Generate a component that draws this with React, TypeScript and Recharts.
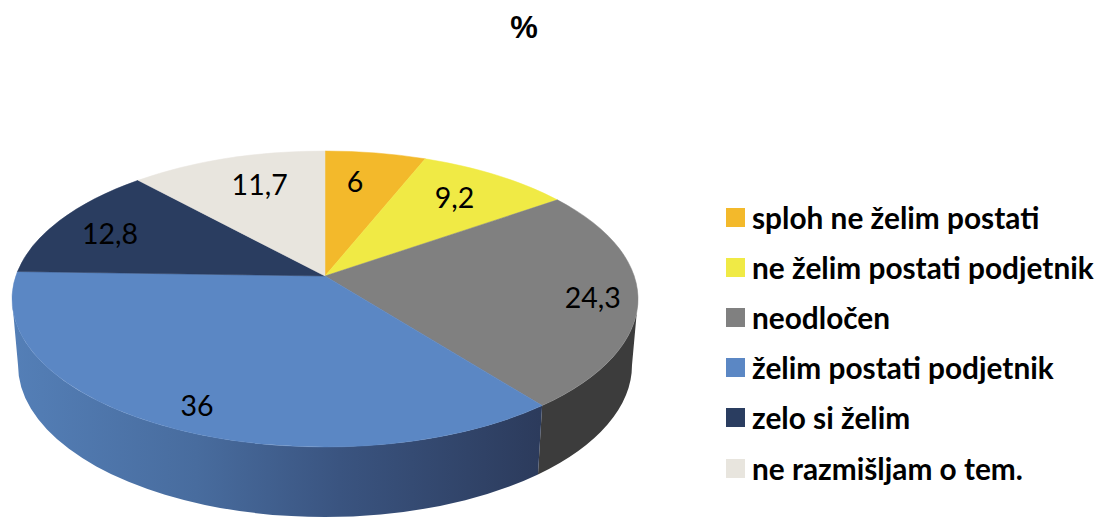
import React from 'react';
import { PieChart, Pie, Cell, Legend } from 'recharts';

const CATEGORIES = [
    'sploh ne želim postati',
    'ne želim postati podjetnik',
    'neodločen',
    'želim postati podjetnik',
    'zelo si želim',
    'ne razmišljam o tem.',
];
const VALUES = [6, 9.2, 24.3, 36, 12.8, 11.7];
const COLORS = ['#F3B92B', '#F0EA45', '#808080', '#5B87C4', '#2A3D60', '#E8E5DE'];

// nudges for the value labels, Excel does not put them on the mid line
const LABEL_SHIFT = [[-8, -3], [1, -3], [33, 5], [-5, 17], [-17, -1], [8, -4]];

const data = CATEGORIES.map((name, i) => ({ name, value: VALUES[i] }));

// fake 3D: the pie is tilted, so the rim is an ellipse that sits below the apex
const TILT = 2.16;
const RY_RATIO = 148 / 313;
const RIM_DROP = 23;
const WALL_DROP = 66;
const WALL_RX_RATIO = 307 / 313;
const WALL_RY_RATIO = 152 / 313;

const toRad = (deg: number) => (deg * Math.PI) / 180;

// walks from the apex along a pie angle until it reaches the rim, returns the ellipse parameter
const rimParam = (angle: number, rx: number) => {
    const theta = toRad(90 - angle);
    const ry = rx * RY_RATIO;
    const dx = Math.sin(theta);
    const dy = -Math.cos(theta) / TILT;
    const a = (dx * dx) / (rx * rx) + (dy * dy) / (ry * ry);
    const b = (2 * dy * -RIM_DROP) / (ry * ry);
    const c = (RIM_DROP * RIM_DROP) / (ry * ry) - 1;
    const s = (-b + Math.sqrt(b * b - 4 * a * c)) / (2 * a);
    const t = Math.atan2((dx * s) / rx, -(dy * s - RIM_DROP) / ry);
    return { s, dx, dy, t: t < -0.001 ? t + Math.PI * 2 : t };
};

const onEllipse = (cx: number, cy: number, rx: number, ry: number, t: number) => [
    cx + rx * Math.sin(t),
    cy - ry * Math.cos(t),
];

const Slice3D = (props: any) => {
    const { cx, cy, outerRadius: rx, startAngle, endAngle, fill, index } = props;
    const ry = rx * RY_RATIO;
    const rimY = cy + RIM_DROP;
    const t1 = rimParam(startAngle, rx).t;
    let t2 = rimParam(endAngle, rx).t;
    if (t2 <= t1) t2 += Math.PI * 2;
    const [x1, y1] = onEllipse(cx, rimY, rx, ry, t1);
    const [x2, y2] = onEllipse(cx, rimY, rx, ry, t2);
    const large = t2 - t1 > Math.PI ? 1 : 0;
    const top = `M${cx},${cy} L${x1},${y1} A${rx},${ry} 0 ${large} 1 ${x2},${y2} Z`;

    // only the front half of the rim shows a side wall
    const w1 = Math.max(t1, Math.PI / 2);
    const w2 = Math.min(t2, (Math.PI * 3) / 2);
    let wall = null;
    if (w2 > w1) {
        const rx2 = rx * WALL_RX_RATIO;
        const ry2 = rx * WALL_RY_RATIO;
        const lowY = rimY + WALL_DROP;
        const [ax, ay] = onEllipse(cx, rimY, rx, ry, w1);
        const [bx, by] = onEllipse(cx, rimY, rx, ry, w2);
        const [cx2, cy2] = onEllipse(cx, lowY, rx2, ry2, w2);
        const [dx2, dy2] = onEllipse(cx, lowY, rx2, ry2, w1);
        const d = `M${ax},${ay} A${rx},${ry} 0 0 1 ${bx},${by} L${cx2},${cy2} A${rx2},${ry2} 0 0 0 ${dx2},${dy2} Z`;
        wall = <path d={d} fill={index === 3 ? 'url(#blueWall)' : '#3C3C3C'} />;
    }
    return (
        <g>
            <defs>
                <linearGradient id="blueWall" gradientUnits="userSpaceOnUse" x1="12" y1="0" x2="540" y2="0">
                    <stop offset="0%" stopColor="#547FB7" />
                    <stop offset="35%" stopColor="#486C9E" />
                    <stop offset="62%" stopColor="#3A5480" />
                    <stop offset="100%" stopColor="#2C3B5C" />
                </linearGradient>
            </defs>
            {wall}
            <path d={top} fill={fill} stroke={fill} strokeWidth={0.5} />
        </g>
    );
};

const renderLabel = (props: any) => {
    const { cx, cy, outerRadius: rx, midAngle, value, index } = props;
    const { s, dx, dy } = rimParam(midAngle, rx);
    const [sx, sy] = LABEL_SHIFT[index];
    return (
        <text
            x={cx + dx * s * 0.75 + sx}
            y={cy + dy * s * 0.75 + sy}
            textAnchor="middle"
            dominantBaseline="central"
            fontFamily="Lato"
            fontSize={28.5}
            fill="#000"
        >
            {String(value).replace('.', ',')}
        </text>
    );
};

const renderLegend = ({ payload }: any) => (
    <div>
        {(payload || []).map((entry: any) => (
            <div key={entry.value} style={{ height: 50.2, display: 'flex', alignItems: 'center', whiteSpace: 'nowrap' }}>
                <span style={{ width: 19, height: 19, background: entry.color, marginRight: 7 }} />
                <span style={{ fontFamily: 'Lato', fontWeight: 700, fontSize: 29.8, color: '#000' }}>{entry.value}</span>
            </div>
        ))}
    </div>
);

export default function App() {
    return (
        <div style={{ position: 'absolute', left: 0, top: 0 }}>
            <PieChart width={1098} height={518} margin={{ top: 0, right: 0, bottom: 0, left: 0 }}>
                <text x={524} y={27} textAnchor="middle" dominantBaseline="central" fontFamily="Liberation Sans" fontWeight={700} fontSize={31}>
                    %
                </text>
                <Pie
                    data={data}
                    dataKey="value"
                    nameKey="name"
                    cx={325}
                    cy={276}
                    outerRadius={313}
                    startAngle={90}
                    endAngle={-270}
                    shape={Slice3D}
                    label={renderLabel}
                    labelLine={false}
                    isAnimationActive={false}
                >
                    {data.map((entry, index) => (
                        <Cell key={`cell-${index}`} fill={COLORS[index]} />
                    ))}
                </Pie>
                <Legend
                    content={renderLegend}
                    layout="vertical"
                    itemSorter={null}
                    wrapperStyle={{ left: 726, top: 192, width: 372, bottom: 'auto' }}
                />
            </PieChart>
        </div>
    );
}
